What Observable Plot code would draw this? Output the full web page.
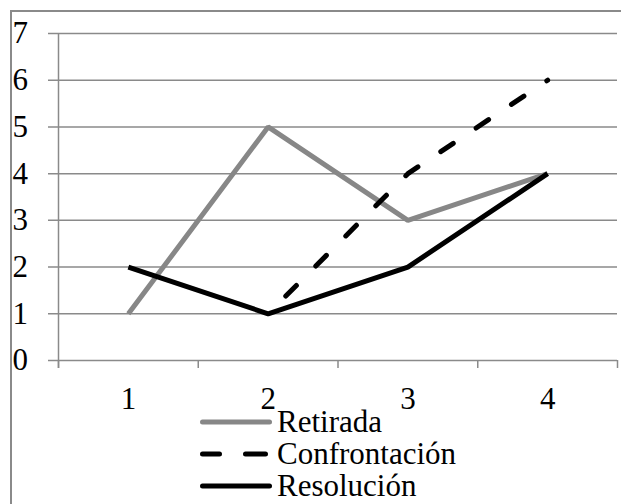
<!DOCTYPE html>
<html><head><meta charset="utf-8">
<script src="https://cdn.jsdelivr.net/npm/d3@7"></script>
<script src="https://cdn.jsdelivr.net/npm/@observablehq/plot@0.6"></script>
<style>
body{margin:0;background:#fff;}
#wrap{position:relative;width:621px;height:504px;overflow:hidden;font-family:"Liberation Serif","Times New Roman",serif;}
#chart{position:absolute;left:0;top:0;}
#border{position:absolute;left:10px;top:10px;width:700px;height:600px;border-left:2px solid #8a8a8a;border-top:2px solid #8a8a8a;}
#legend{position:absolute;left:200px;top:406px;}
.item{display:flex;align-items:center;height:32px;line-height:32px;font-size:31px;color:#000;}
.item svg{display:block;flex:none;}
.item span{margin-left:5px;white-space:nowrap;}
</style></head><body>
<div id="wrap"><div id="chart"></div><div id="border"></div><div id="legend"></div></div>
<script>
const categories = [1, 2, 3, 4];
const retirada = [1, 5, 3, 4];
const confrontacion = [null, 1, 4, 6];
const resolucion = [2, 1, 2, 4];
const yTicks = [0, 1, 2, 3, 4, 5, 6, 7];
const xBounds = [0.5, 1.5, 2.5, 3.5, 4.5];
const seriesNames = ["Retirada", "Confrontación", "Resolución"];

const gridColor = "#8a8a8a";
const grayLine = "#878787";
const styles = {
  "Retirada": {stroke: grayLine, dash: null},
  "Confrontación": {stroke: "#000", dash: "17,26,20,10"},
  "Resolución": {stroke: "#000", dash: null}
};

function rows(values, name) {
  const out = [];
  categories.forEach((c, i) => { if (values[i] != null) out.push({serie: name, x: c, y: values[i]}); });
  return out;
}
const dRet = rows(retirada, seriesNames[0]);
const dCon = rows(confrontacion, seriesNames[1]);
const dRes = rows(resolucion, seriesNames[2]);

const chart = Plot.plot({
  width: 621,
  height: 420,
  marginLeft: 58,
  marginRight: 4,
  marginTop: 33,
  marginBottom: 60,
  style: {fontFamily: "'Liberation Serif','Times New Roman',serif", fontSize: "31px", background: "transparent", color: "#000"},
  x: {type: "linear", domain: [0.5, 4.5], label: null},
  y: {domain: [0, 7], label: null},
  marks: [
    Plot.ruleY(yTicks, {stroke: gridColor, strokeWidth: 1.5, insetLeft: -10}),
    Plot.ruleX([xBounds[0]], {stroke: gridColor, strokeWidth: 1.5, insetBottom: -8}),
    Plot.axisX(xBounds, {tickSize: 8, tickFormat: () => "", stroke: gridColor, strokeWidth: 1.5, label: null}),
    Plot.axisX(categories, {tickSize: 0, tickPadding: 26, fontSize: 31, fill: "#000", tickFormat: d => String(d), label: null}),
    Plot.axisY(yTicks, {tickSize: 0, tickPadding: 46, textAnchor: "start", fontSize: 31, fill: "#000", tickFormat: d => String(d), label: null}),
    Plot.line(dRet, {x: "x", y: "y", stroke: grayLine, strokeWidth: 5, strokeLinejoin: "miter", strokeLinecap: "butt"}),
    Plot.line(dCon, {x: "x", y: "y", stroke: "#000", strokeWidth: 5, strokeDasharray: "15,27.5", strokeDashoffset: 17.5, strokeLinecap: "round", strokeLinejoin: "round"}),
    Plot.line(dRes, {x: "x", y: "y", stroke: "#000", strokeWidth: 5, strokeLinejoin: "miter", strokeLinecap: "butt"})
  ]
});
document.getElementById("chart").appendChild(chart);

const legend = document.getElementById("legend");
seriesNames.forEach(name => {
  const s = styles[name];
  const item = document.createElement("div");
  item.className = "item";
  const dash = s.dash ? ` stroke-dasharray="${s.dash}"` : "";
  const x2 = s.dash ? 65.5 : 69.5;
  item.innerHTML = `<svg width="72" height="12"><line x1="2.5" y1="6" x2="${x2}" y2="6" stroke="${s.stroke}" stroke-width="5" stroke-linecap="round"${dash}/></svg><span>${name}</span>`;
  legend.appendChild(item);
});
</script>
</body></html>
